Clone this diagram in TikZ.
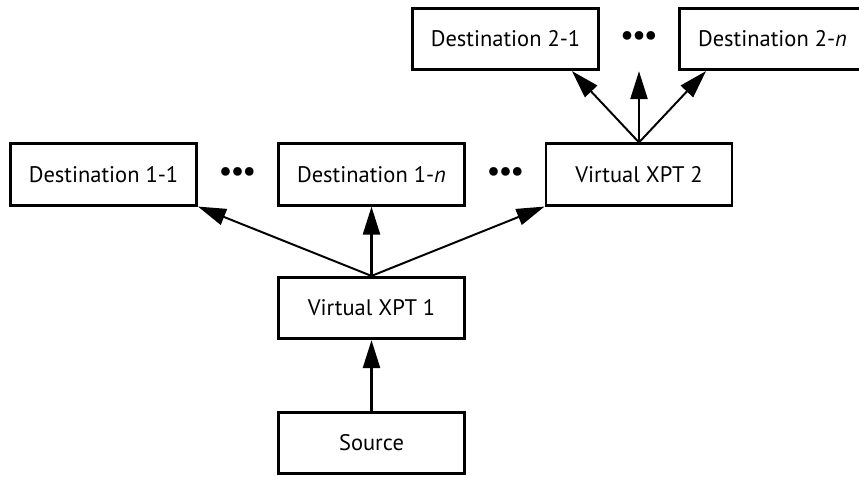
\documentclass[tikz,border=0pt]{standalone}
\usepackage{fontspec}
\setmainfont{PT Sans}
\usetikzlibrary{arrows.meta,calc,positioning}

\newcommand{\dotrow}{\textbullet\kern-1.5pt\textbullet\kern-1.5pt\textbullet}

\begin{document}
\begin{tikzpicture}[line cap=butt, line join=miter,
  >={Triangle[length=0.7cm,width=0.42cm]},
  box/.style={draw, line width=2.1pt, minimum width=4.65cm,
    minimum height=1.53cm, inner sep=2pt,
    font=\fontsize{16}{19}\selectfont},
  dots/.style={inner sep=0pt, font=\fontsize{22}{22}\selectfont},
  thin arrow/.style={->, line width=1.4pt},
  thick arrow/.style={->, line width=2.1pt}]
  \path[use as bounding box] (0,0) rectangle (21.475,11.925);
  % first level
  \node[box] (src) at (9.2875,0.85) {Source};
  \node[box] (vx1) at (9.2875,4.225) {Virtual XPT 1};
  \node[box] (d11) at (2.5875,7.5625) {Destination 1-1};
  \node[box] (d1n) at (9.2875,7.5625) {Destination 1-\textit{n}};
  \node[box] (vx2) at (15.975,7.5625) {Virtual XPT 2};
  \node[dots] (dotsa) at (5.94,7.5625) {\dotrow};
  \node[dots] (dotsb) at (12.64,7.5625) {\dotrow};
  % second level
  \node[box] (d21) at (12.6375,10.95) {Destination 2-1};
  \node[box] (d2n) at (19.3125,10.95) {Destination 2-\textit{n}};
  \node[dots] (dotsc) at (15.975,10.95) {\dotrow};
  \coordinate (d2l) at ($(d21.south east)+(-0.7,0)$);
  \coordinate (d2m) at (dotsc |- d21.south);
  \coordinate (d2r) at ($(d2n.south west)+(0.7,0)$);
  \draw[thick arrow] (src.north) -- (vx1.south);
  \draw[thin arrow] (vx1.north) -- (d11.south east);
  \draw[thick arrow] (vx1.north) -- (d1n.south);
  \draw[thin arrow] (vx1.north) -- (vx2.south west);
  \draw[thin arrow] (vx2.north) -- (d2l);
  \draw[thick arrow] (vx2.north) -- (d2m);
  \draw[thin arrow] (vx2.north) -- (d2r);
\end{tikzpicture}
\end{document}
